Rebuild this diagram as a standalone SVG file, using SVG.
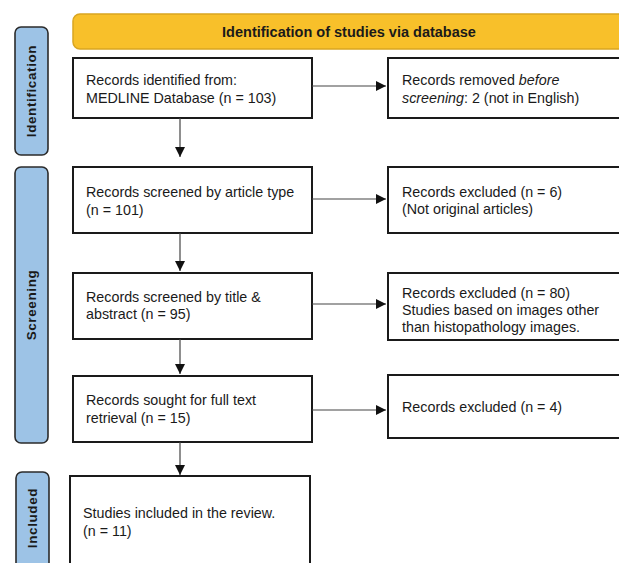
<svg xmlns="http://www.w3.org/2000/svg" width="619" height="563" viewBox="0 0 619 563">
<defs>
<style>
.box{fill:#fff;stroke:#1a1a1a;stroke-width:2}
.side{fill:#9DC3E6;stroke:#2b2b2b;stroke-width:1.6}
.t{font-family:"Liberation Sans",Arial,sans-serif;font-size:14.3px;fill:#1a1a1a}
.st{font-family:"Liberation Sans",Arial,sans-serif;font-size:13.5px;font-weight:bold;fill:#1a1a1a;letter-spacing:0.6px}
.hd{font-family:"Liberation Sans",Arial,sans-serif;font-size:14.5px;font-weight:bold;fill:#1a1a1a}
.conn{fill:none;stroke:#444;stroke-width:1.2}
</style>
<marker id="ah" viewBox="0 0 10 10" refX="10" refY="5" markerWidth="10" markerHeight="11" markerUnits="userSpaceOnUse" orient="auto">
<path d="M0,0 L10,5 L0,10 z" fill="#111"/>
</marker>
</defs>
<rect width="619" height="563" fill="#fff"/>

<g id="side-identification">
<rect class="side" x="15" y="27" width="33" height="128" rx="6"/>
<text class="st" transform="translate(36,91) rotate(-90)" text-anchor="middle">Identification</text>
</g>
<g id="side-screening">
<rect class="side" x="15" y="167" width="33" height="276" rx="6"/>
<text class="st" transform="translate(36,305) rotate(-90)" text-anchor="middle">Screening</text>
</g>
<g id="side-included">
<rect class="side" x="16" y="472" width="33" height="110" rx="6"/>
<text class="st" transform="translate(37,518) rotate(-90)" text-anchor="middle">Included</text>
</g>

<g id="header">
<rect x="73" y="14" width="570" height="35" rx="7" fill="#F8C02A" stroke="#D9A521" stroke-width="1.5"/>
<text class="hd" x="349" y="37" text-anchor="middle">Identification of studies via database</text>
</g>

<g id="n1">
<rect class="box" x="73" y="58" width="239" height="60"/>
<text class="t" x="86" y="85">Records identified from:</text>
<text class="t" x="86" y="103">MEDLINE Database (n = 103)</text>
</g>
<g id="r1">
<rect class="box" x="388" y="58" width="250" height="60"/>
<text class="t" x="402" y="85">Records removed <tspan font-style="italic">before</tspan></text>
<text class="t" x="402" y="103"><tspan font-style="italic">screening</tspan>: 2 (not in English)</text>
</g>

<g id="n2">
<rect class="box" x="73" y="167" width="239" height="66"/>
<text class="t" x="86" y="197">Records screened by article type</text>
<text class="t" x="86" y="215">(n = 101)</text>
</g>
<g id="r2">
<rect class="box" x="388" y="167" width="250" height="66"/>
<text class="t" x="402" y="197">Records excluded (n = 6)</text>
<text class="t" x="402" y="214">(Not original articles)</text>
</g>

<g id="n3">
<rect class="box" x="73" y="273" width="239" height="66"/>
<text class="t" x="86" y="302">Records screened by title &amp;</text>
<text class="t" x="86" y="319">abstract (n = 95)</text>
</g>
<g id="r3">
<rect class="box" x="388" y="273" width="250" height="67"/>
<text class="t" x="402" y="298">Records excluded (n = 80)</text>
<text class="t" x="402" y="315">Studies based on images other</text>
<text class="t" x="402" y="332">than histopathology images.</text>
</g>

<g id="n4">
<rect class="box" x="73" y="376" width="239" height="66"/>
<text class="t" x="86" y="405">Records sought for full text</text>
<text class="t" x="86" y="423">retrieval (n = 15)</text>
</g>
<g id="r4">
<rect class="box" x="388" y="375" width="250" height="63"/>
<text class="t" x="402" y="412">Records excluded (n = 4)</text>
</g>

<g id="n5">
<rect class="box" x="70" y="476" width="240" height="110"/>
<text class="t" x="83" y="518">Studies included in the review.</text>
<text class="t" x="83" y="536">(n = 11)</text>
</g>

<g id="connectors">
<line class="conn" x1="312" y1="86" x2="386" y2="86" marker-end="url(#ah)"/>
<line class="conn" x1="312" y1="199" x2="386" y2="199" marker-end="url(#ah)"/>
<line class="conn" x1="312" y1="304" x2="386" y2="304" marker-end="url(#ah)"/>
<line class="conn" x1="312" y1="410" x2="386" y2="410" marker-end="url(#ah)"/>
<line class="conn" x1="180" y1="118" x2="180" y2="157" marker-end="url(#ah)"/>
<line class="conn" x1="180" y1="233" x2="180" y2="271" marker-end="url(#ah)"/>
<line class="conn" x1="180" y1="339" x2="180" y2="374" marker-end="url(#ah)"/>
<line class="conn" x1="180" y1="442" x2="180" y2="475" marker-end="url(#ah)"/>
</g>
</svg>
